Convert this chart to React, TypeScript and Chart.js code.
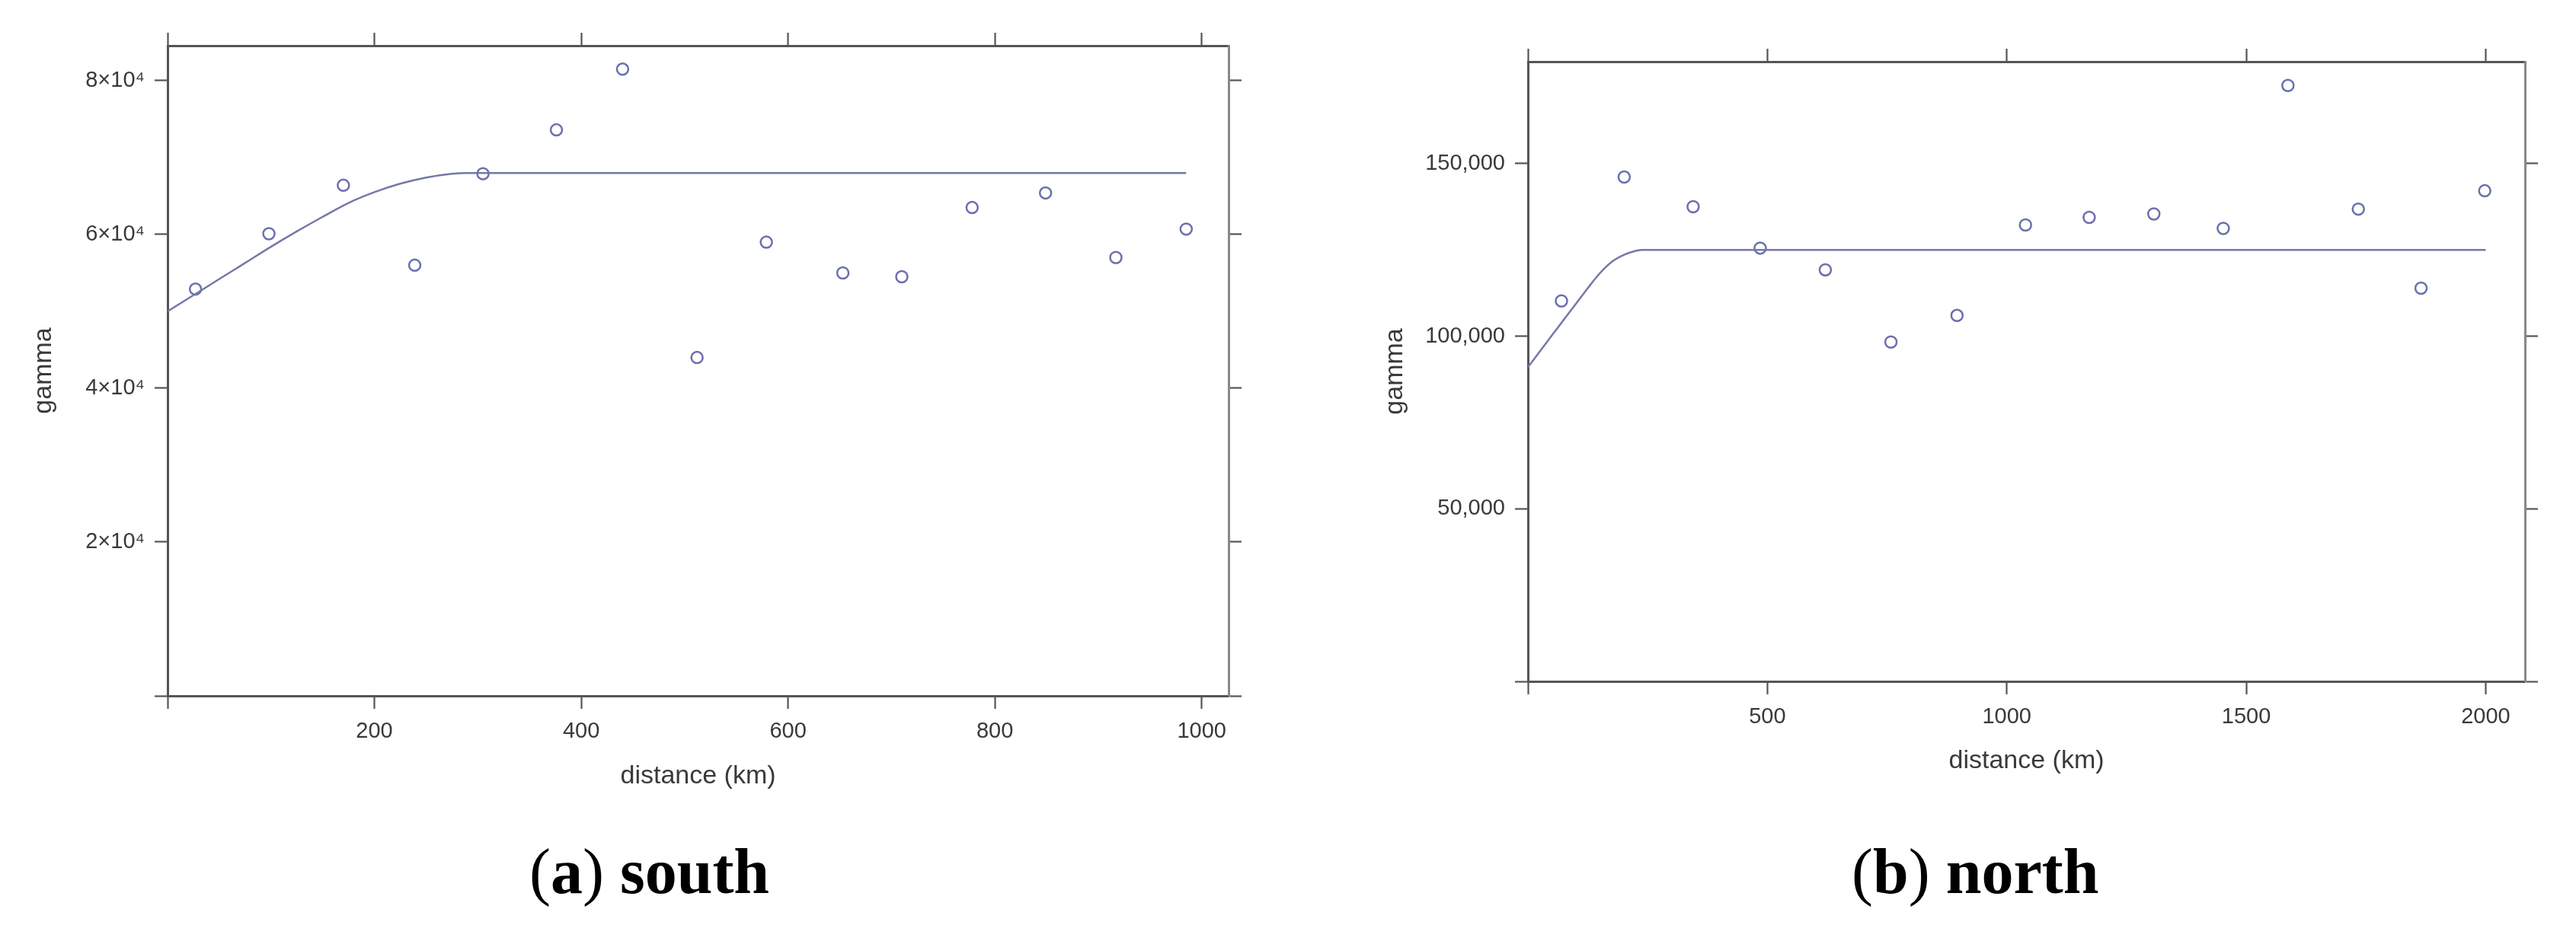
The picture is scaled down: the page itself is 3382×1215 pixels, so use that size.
import React, { useEffect, useRef } from 'react';
import { Chart, registerables } from 'chart.js';

Chart.register(...registerables);

// ---- south panel data ----
const southDist = [27, 98, 170, 239, 305, 376, 440, 512, 579, 653, 710, 778, 849, 917, 985];
const southGamma = [52900, 60100, 66400, 56000, 67900, 73600, 81500, 44000, 59000, 55000, 54500, 63500, 65400, 57000, 60700];
const southFitDist = [0, 25, 50, 75, 100, 125, 150, 175, 200, 225, 250, 275, 290, 985];
const southFitGamma = [50000, 52100, 54200, 56300, 58400, 60400, 62300, 64100, 65500, 66600, 67400, 67900, 68000, 68000];
const southXTicks = [0, 200, 400, 600, 800, 1000];
const southXLabels = ['', '200', '400', '600', '800', '1000'];
const southYTicks = [0, 20000, 40000, 60000, 80000];
const southYLabels = ['', '2×10⁴', '4×10⁴', '6×10⁴', '8×10⁴'];

// ---- north panel data ----
const northDist = [70, 201, 345, 485, 621, 758, 896, 1039, 1172, 1307, 1452, 1587, 1734, 1865, 1998];
const northGamma = [110200, 146100, 137500, 125500, 119200, 98300, 106000, 132200, 134400, 135400, 131200, 172600, 136800, 113900, 142100];
const northFitDist = [0, 25, 50, 75, 100, 125, 150, 175, 200, 225, 240, 2000];
const northFitGamma = [91000, 95600, 100200, 104800, 109300, 113900, 118200, 121500, 123500, 124700, 125000, 125000];
const northXTicks = [0, 500, 1000, 1500, 2000];
const northXLabels = ['', '500', '1000', '1500', '2000'];
const northYTicks = [0, 50000, 100000, 150000];
const northYLabels = ['', '50,000', '100,000', '150,000'];

const FONT = "'Liberation Sans', Arial, Helvetica, sans-serif";
const TEXT = '#3a3a3a';
const POINT = '#6b70ad';
const LINE = '#7379a8';

function axis(position: string, min: number, max: number, ticks: number[], labels: string[], size: number, showLabels: boolean, borderColor: string, title?: any) {
  const horizontal = position === 'top' || position === 'bottom';
  return {
    type: 'linear',
    position,
    min,
    max,
    afterBuildTicks: (s: any) => { s.ticks = ticks.map(v => ({ value: v })); },
    afterFit: (s: any) => { if (horizontal) s.height = size; else s.width = size; },
    ticks: {
      display: showLabels,
      padding: 13,
      color: TEXT,
      font: { family: FONT, size: 29 },
      maxRotation: 0,
      minRotation: 0,
      autoSkip: false,
      callback: (v: any) => { const i = ticks.indexOf(Number(v)); return i >= 0 ? labels[i] : ''; },
    },
    grid: { display: true, drawOnChartArea: false, drawTicks: true, tickLength: 17, tickColor: '#555', tickWidth: 2.2 },
    border: { display: true, color: borderColor, width: 3 },
    title: title || { display: false },
  };
}

type Panel = {
  width: number; height: number;
  left: number; right: number; top: number; bottom: number;
  xMax: number; yMax: number;
  dist: number[]; gamma: number[]; fitDist: number[]; fitGamma: number[];
  xTicks: number[]; xLabels: string[]; yTicks: number[]; yLabels: string[];
  yTitlePad: number; xTitlePad: number;
};

function PanelChart({ p, x }: { p: Panel; x: number }) {
  const ref = useRef<HTMLCanvasElement | null>(null);
  useEffect(() => {
    if (!ref.current) return;
    const chart = new Chart(ref.current, {
      type: 'scatter',
      data: {
        datasets: [
          {
            data: p.fitDist.map((d, i) => ({ x: d, y: p.fitGamma[i] })),
            showLine: true,
            pointRadius: 0,
            borderColor: LINE,
            borderWidth: 2.5,
            cubicInterpolationMode: 'monotone',
            fill: false,
            xAxisID: 'x', yAxisID: 'y',
          } as any,
          {
            data: p.dist.map((d, i) => ({ x: d, y: p.gamma[i] })),
            showLine: false,
            pointStyle: 'circle',
            pointRadius: 7.5,
            pointBorderWidth: 2.5,
            borderColor: POINT,
            backgroundColor: 'rgba(0,0,0,0)',
            xAxisID: 'x', yAxisID: 'y',
          } as any,
        ],
      },
      options: {
        responsive: false,
        animation: false,
        devicePixelRatio: 1,
        events: [],
        layout: { padding: 0, autoPadding: false },
        plugins: { legend: { display: false }, tooltip: { enabled: false } },
        scales: {
          x: axis('bottom', 0, p.xMax, p.xTicks, p.xLabels, p.height - p.bottom, true, '#555', {
            display: true, text: 'distance (km)', color: TEXT, font: { family: FONT, size: 34 }, padding: { top: 0, bottom: p.xTitlePad },
          }),
          x2: axis('top', 0, p.xMax, p.xTicks, p.xLabels, p.top, false, '#555'),
          y: axis('left', 0, p.yMax, p.yTicks, p.yLabels, p.left, true, '#555', {
            display: true, text: 'gamma', color: TEXT, font: { family: FONT, size: 34 }, padding: { top: p.yTitlePad, bottom: 0 },
          }),
          y2: axis('right', 0, p.yMax, p.yTicks, p.yLabels, p.width - p.right, false, '#888'),
        } as any,
      },
    } as any);
    return () => chart.destroy();
  }, [p]);
  return (
    <canvas ref={ref} width={p.width} height={p.height}
      style={{ position: 'absolute', left: x, top: 0, width: p.width, height: p.height }} />
  );
}

const southPanel: Panel = {
  width: 1700, height: 1100, left: 220, right: 1613, top: 60, bottom: 914,
  xMax: 1026, yMax: 84550,
  dist: southDist, gamma: southGamma, fitDist: southFitDist, fitGamma: southFitGamma,
  xTicks: southXTicks, xLabels: southXLabels, yTicks: southYTicks, yLabels: southYLabels,
  yTitlePad: 37, xTitlePad: 60,
};

const northPanel: Panel = {
  width: 1682, height: 1100, left: 306, right: 1615, top: 81, bottom: 895,
  xMax: 2082, yMax: 179500,
  dist: northDist, gamma: northGamma, fitDist: northFitDist, fitGamma: northFitGamma,
  xTicks: northXTicks, xLabels: northXLabels, yTicks: northYTicks, yLabels: northYLabels,
  yTitlePad: 111, xTitlePad: 80,
};

const capStyle: React.CSSProperties = {
  position: 'absolute', top: 1103, fontFamily: "'Liberation Serif', 'Times New Roman', serif",
  fontSize: 84, lineHeight: 1, color: '#000', whiteSpace: 'nowrap', margin: 0,
};

export default function App() {
  return (
    <div style={{ position: 'absolute', left: 0, top: 0, width: 3382, height: 1215, background: '#fff', overflow: 'hidden' }}>
      <PanelChart p={southPanel} x={0} />
      <PanelChart p={northPanel} x={1700} />
      <div style={{ ...capStyle, left: 695 }}>
        <span style={{ fontWeight: 400 }}>(</span><span style={{ fontWeight: 700 }}>a</span><span style={{ fontWeight: 400 }}>)</span><span style={{ fontWeight: 700 }}> south</span>
      </div>
      <div style={{ ...capStyle, left: 2431 }}>
        <span style={{ fontWeight: 400 }}>(</span><span style={{ fontWeight: 700 }}>b</span><span style={{ fontWeight: 400 }}>)</span><span style={{ fontWeight: 700 }}> north</span>
      </div>
    </div>
  );
}
